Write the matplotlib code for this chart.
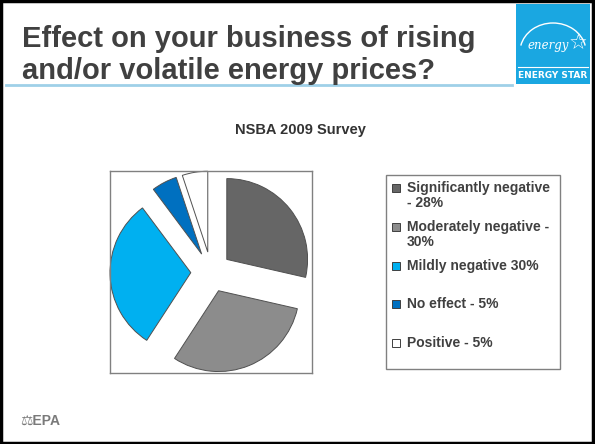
import matplotlib.pyplot as plt
from matplotlib.patches import Rectangle, Arc

# data
labels = ["Significantly negative\n- 28%", "Moderately negative -\n30%",
          "Mildly negative 30%", "No effect - 5%", "Positive - 5%"]
shares = [28, 30, 30, 5, 5]
colors = ["#666666", "#8c8c8c", "#00b0f0", "#0070c0", "#ffffff"]

title = "Effect on your business of rising\nand/or volatile energy prices?"
subtitle = "NSBA 2009 Survey"

W, H = 595, 444
fig = plt.figure(figsize=(W / 100, H / 100), dpi=100)
fig.patch.set_facecolor("white")


def fx(x):
    return x / W


def fy(y):
    return 1 - y / H


# slide border
fig.add_artist(Rectangle((0.002, 0.003), 0.995, 0.994, transform=fig.transFigure,
                         fill=False, edgecolor="black", linewidth=2.5))

# title
fig.text(fx(22), fy(55), title, fontsize=21, fontweight="bold", color="#404040",
         family="Liberation Sans", va="center", ha="left", linespacing=1.18)
fig.add_artist(plt.Line2D([fx(6), fx(512)], [fy(85), fy(85)], transform=fig.transFigure,
                          color="#9fd0e8", linewidth=2))

# energy star logo
fig.add_artist(Rectangle((fx(516), fy(84)), fx(74), 80 / H, transform=fig.transFigure,
                         facecolor="#1aa7e1", edgecolor="none"))
fig.add_artist(Arc((fx(553), fy(52)), fx(66), 58 / H, theta1=15, theta2=165,
                   transform=fig.transFigure, color="white", linewidth=1))
fig.text(fx(548), fy(45), "energy", fontsize=8.5, style="italic", color="white",
         family="DejaVu Serif", ha="center", va="center")
fig.text(fx(578), fy(43), "\u2606", fontsize=15, color="white", ha="center", va="center")
fig.add_artist(plt.Line2D([fx(518), fx(588)], [fy(67), fy(67)], transform=fig.transFigure,
                          color="white", linewidth=0.8))
fig.text(fx(553), fy(76), "ENERGY STAR", fontsize=6.5, fontweight="bold", color="white",
         family="Liberation Sans Narrow", ha="center", va="center")

# subtitle
fig.text(fx(300), fy(130), subtitle, fontsize=10.5, fontweight="bold", color="#333333",
         family="Liberation Sans", ha="center", va="center")

# pie
ax = fig.add_axes([fx(110), fy(373), fx(202), 202 / H])
ax.pie(shares, colors=colors, startangle=90, counterclock=False,
       explode=[0.25] * len(shares), radius=1,
       wedgeprops=dict(edgecolor="#505050", linewidth=0.7))
ax.set_xlim(-1.25, 1.25)
ax.set_ylim(-1.25, 1.25)
ax.set_frame_on(True)
ax.set_xticks([])
ax.set_yticks([])
for s in ax.spines.values():
    s.set_visible(True)
    s.set_color("#808080")
    s.set_linewidth(1)

# legend (drawn by hand)
fig.add_artist(Rectangle((fx(386), fy(369)), fx(174), 194 / H, transform=fig.transFigure,
                         fill=False, edgecolor="#808080", linewidth=1))
for i, (lab, col) in enumerate(zip(labels, colors)):
    yy = 188 + i * 38.8
    fig.add_artist(Rectangle((fx(392), fy(yy + 4)), fx(8), 8 / H, transform=fig.transFigure,
                             facecolor=col, edgecolor="#404040", linewidth=0.7))
    fig.text(fx(407), fy(yy - 7), lab, fontsize=10, fontweight="bold", color="#404040",
             family="Liberation Sans", ha="left", va="top", linespacing=1.1)

# EPA footer
fig.text(fx(20), fy(421), "\u2696EPA", fontsize=10, fontweight="bold", color="#7a7a7a",
         family=["Liberation Sans", "DejaVu Sans"], ha="left", va="center")

fig.savefig("out.png", dpi=100)
